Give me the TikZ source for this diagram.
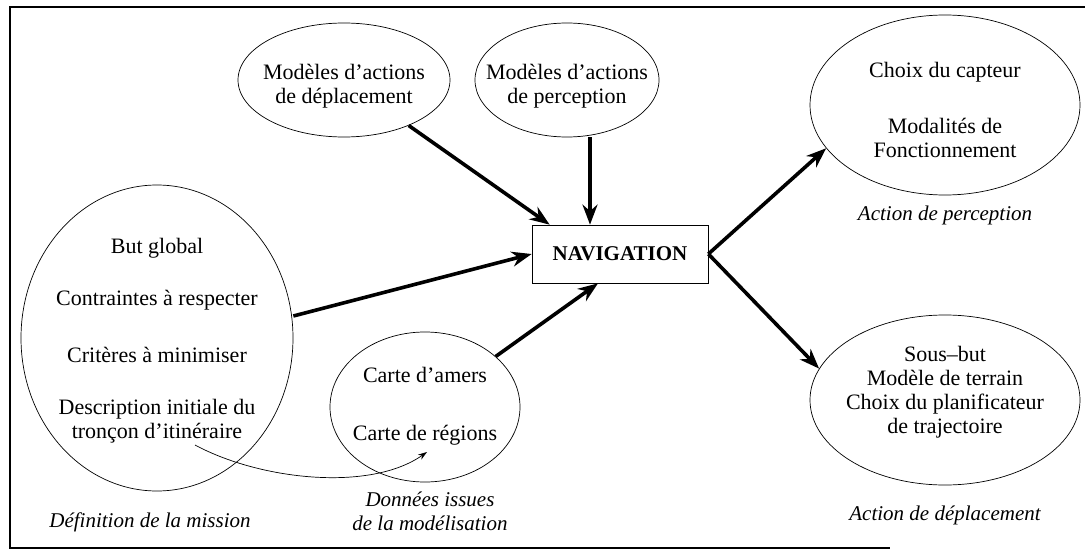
\documentclass[tikz,border=0pt]{standalone}
\usepackage{fontspec}
\setmainfont{Liberation Serif}
\usetikzlibrary{shapes.geometric,arrows.meta,calc}
\begin{document}
\begin{tikzpicture}[x=1pt,y=-1pt,
  oval/.style={draw, ellipse, line width=0.7pt, inner sep=0pt},
  lbl/.style={align=center, font=\fontsize{22}{24}\selectfont, inner sep=0pt},
  capt/.style={align=center, font=\fontsize{21}{24}\selectfont\itshape, inner sep=0pt},
  bigarrow/.style={line width=3.6pt, -{Stealth[length=20pt,width=15pt]}},
  thinarrow/.style={line width=0.7pt, -{Stealth[length=9pt,width=6pt]}},
  frameline/.style={line width=1.2pt}]
\useasboundingbox (0,0) rectangle (1085,551);
% frame
\coordinate (f1) at (1085,7);
\coordinate (f2) at (10,7);
\coordinate (f3) at (10,548);
\coordinate (f4) at (890,548);
\draw[frameline] (f1) -- (f2) -- (f3) -- (f4);
% ellipses
\node[oval, minimum width=272, minimum height=306] (mission) at (157,338) {};
\node[oval, minimum width=212, minimum height=114] (dep) at (344,80) {};
\node[oval, minimum width=184, minimum height=114] (per) at (567,80) {};
\node[oval, minimum width=190, minimum height=150] (amers) at (425,407) {};
\node[oval, minimum width=270, minimum height=180] (cap) at (945,105) {};
\node[oval, minimum width=270, minimum height=170] (traj) at (945,400) {};
% navigation box
\node[draw, line width=0.7pt, minimum width=176, minimum height=58,
      font=\fontsize{21}{24}\selectfont\bfseries] (nav) at (620,254) {NAVIGATION};
% texts
\node[lbl] (t1) at (157,248) {But global};
\node[lbl] (t2) at (157,300) {Contraintes à respecter};
\node[lbl] (t3) at (157,355) {Critères à minimiser};
\node[lbl] (t4) at (157,421) {Description initiale du\\tronçon d’itinéraire};
\node[lbl] (t5) at (344,86) {Modèles d’actions\\de déplacement};
\node[lbl] (t6) at (567,86) {Modèles d’actions\\de perception};
\node[lbl] (t7) at (425,375) {Carte d’amers};
\node[lbl] (t8) at (425,435) {Carte de régions};
\node[lbl] (t9) at (945,72) {Choix du capteur};
\node[lbl] (t10) at (945,138) {Modalités de\\Fonctionnement};
\node[lbl] (t11) at (945,392) {Sous–but\\Modèle de terrain\\Choix du planificateur\\de trajectoire};
\node[capt] (c1) at (150,522) {Définition de la mission};
\node[capt] (c2) at (430,511) {Données issues\\de la modélisation};
\node[capt] (c3) at (945,215) {Action de perception};
\node[capt] (c4) at (945,515) {Action de déplacement};
% arrows
\coordinate (tipD) at ($(nav.north west)+(18,0)$);
\coordinate (tipP) at ($(nav.north)+(-30,0)$);
\coordinate (tipA) at ($(nav.south)+(-22,0)$);
\coordinate (startM) at ($(mission.east)+(0,-22)$);
\draw[bigarrow] (dep) -- (tipD);
\draw[bigarrow] (per.south -| tipP) -- (tipP);
\draw[bigarrow] (startM) -- (nav.west);
\draw[bigarrow] (amers) -- (tipA);
\draw[bigarrow] (nav.east) -- (cap.200);
\draw[bigarrow] (nav.east) -- (traj.166);
% curved thin arrow
\coordinate (cs) at (195,445);
\coordinate (ce) at (427,452);
\draw[thinarrow] (cs) .. controls (260,480) and (370,492) .. (ce);
\end{tikzpicture}
\end{document}
